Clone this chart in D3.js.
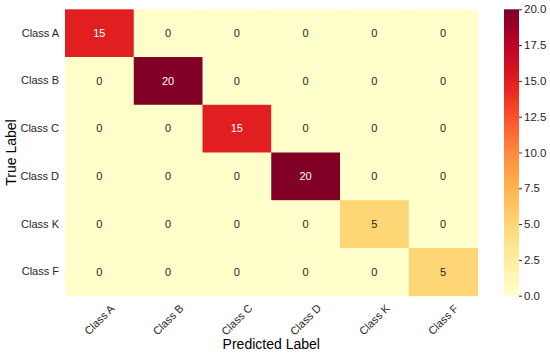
<!DOCTYPE html>
<html>
<head>
<meta charset="utf-8">
<script src="https://cdn.jsdelivr.net/npm/d3@7"></script>
<style>
  body { margin: 0; background: #fff; }
  text { font-family: Arial, "Liberation Sans", sans-serif; }
</style>
</head>
<body>
<div id="chart"></div>
<script>
var trueLabels = ['Class A', 'Class B', 'Class C', 'Class D', 'Class K', 'Class F'];
var predLabels = ['Class A', 'Class B', 'Class C', 'Class D', 'Class K', 'Class F'];
var matrix = [
  [15, 0, 0, 0, 0, 0],
  [0, 20, 0, 0, 0, 0],
  [0, 0, 15, 0, 0, 0],
  [0, 0, 0, 20, 0, 0],
  [0, 0, 0, 0, 5, 0],
  [0, 0, 0, 0, 0, 5]
];
var barTicks = [0, 2.5, 5, 7.5, 10, 12.5, 15, 17.5, 20];

var W = 550, H = 354;
var mLeft = 65, mTop = 9.3, mRight = 477.5, mBottom = 295.7;

var svg = d3.select('#chart').append('svg')
    .attr('width', W).attr('height', H);

var x = d3.scaleBand().domain(predLabels).range([mLeft, mRight]);
var y = d3.scaleBand().domain(trueLabels).range([mTop, mBottom]);
var color = d3.scaleSequential(d3.interpolateYlOrRd).domain([0, 20]);

// flatten cells
var cells = [];
matrix.forEach(function(row, i){
  row.forEach(function(v, j){
    cells.push({r: trueLabels[i], c: predLabels[j], v: v});
  });
});

svg.selectAll('rect.cell')
    .data(cells)
    .enter()
    .append('rect')
    .attr('class', 'cell')
    .attr('x', function(d){ return x(d.c); })
    .attr('y', function(d){ return y(d.r); })
    .attr('width', x.bandwidth() + 0.5)
    .attr('height', y.bandwidth() + 0.5)
    .attr('fill', function(d){ return color(d.v); });

svg.selectAll('text.ann')
    .data(cells)
    .enter()
    .append('text')
    .attr('class', 'ann')
    .attr('x', function(d){ return x(d.c) + x.bandwidth() / 2; })
    .attr('y', function(d){ return y(d.r) + y.bandwidth() / 2; })
    .attr('text-anchor', 'middle')
    .attr('dy', '0.35em')
    .style('font-size', '11px')
    .attr('fill', function(d){ return d.v > 10 ? '#ffffff' : '#262626'; })
    .text(function(d){ return d.v; });

// y axis labels
var yAxis = svg.append('g')
    .attr('transform', 'translate(' + mLeft + ',0)')
    .call(d3.axisLeft(y).tickSize(0).tickPadding(6));
yAxis.select('.domain').remove();
yAxis.selectAll('text').style('font-size', '11px').attr('fill', '#262626')
    .style('font-family', 'Arial, "Liberation Sans", sans-serif');

// x axis labels, rotated around their centre like matplotlib
var xAxis = svg.append('g')
    .attr('transform', 'translate(0,' + mBottom + ')')
    .call(d3.axisBottom(x).tickSize(0).tickPadding(0));
xAxis.select('.domain').remove();
xAxis.selectAll('text')
    .style('font-size', '11px')
    .style('font-family', 'Arial, "Liberation Sans", sans-serif')
    .attr('fill', '#262626')
    .attr('text-anchor', 'middle')
    .attr('y', 0)
    .attr('dy', '0.35em')
    .attr('transform', 'translate(0,24) rotate(-45)');

svg.append('text')
    .attr('x', (mLeft + mRight) / 2)
    .attr('y', 349)
    .attr('text-anchor', 'middle')
    .style('font-size', '14px')
    .attr('fill', '#000')
    .text('Predicted Label');

svg.append('text')
    .attr('transform', 'translate(16,' + ((mTop + mBottom) / 2) + ') rotate(-90)')
    .attr('text-anchor', 'middle')
    .style('font-size', '14px')
    .attr('fill', '#000')
    .text('True Label');

// colorbar
var cbX = 504, cbW = 15;
var defs = svg.append('defs');
var grad = defs.append('linearGradient')
    .attr('id', 'cbgrad')
    .attr('x1', '0').attr('y1', '1').attr('x2', '0').attr('y2', '0');
d3.range(0, 1.0001, 0.05).forEach(function(t){
  grad.append('stop').attr('offset', t).attr('stop-color', color(t * 20));
});
svg.append('rect')
    .attr('x', cbX).attr('y', mTop)
    .attr('width', cbW).attr('height', mBottom - mTop)
    .attr('fill', 'url(#cbgrad)');

var cbScale = d3.scaleLinear().domain([0, 20]).range([mBottom, mTop]);
var cbAxis = svg.append('g')
    .attr('transform', 'translate(' + (cbX + cbW) + ',0)')
    .call(d3.axisRight(cbScale).tickValues(barTicks).tickFormat(d3.format('.1f')).tickSize(3).tickPadding(2));
cbAxis.select('.domain').remove();
cbAxis.selectAll('line').attr('stroke', '#262626');
cbAxis.selectAll('text')
    .style('font-size', '11.5px')
    .style('font-family', 'Arial, "Liberation Sans", sans-serif')
    .attr('fill', '#262626');
</script>
</body>
</html>
